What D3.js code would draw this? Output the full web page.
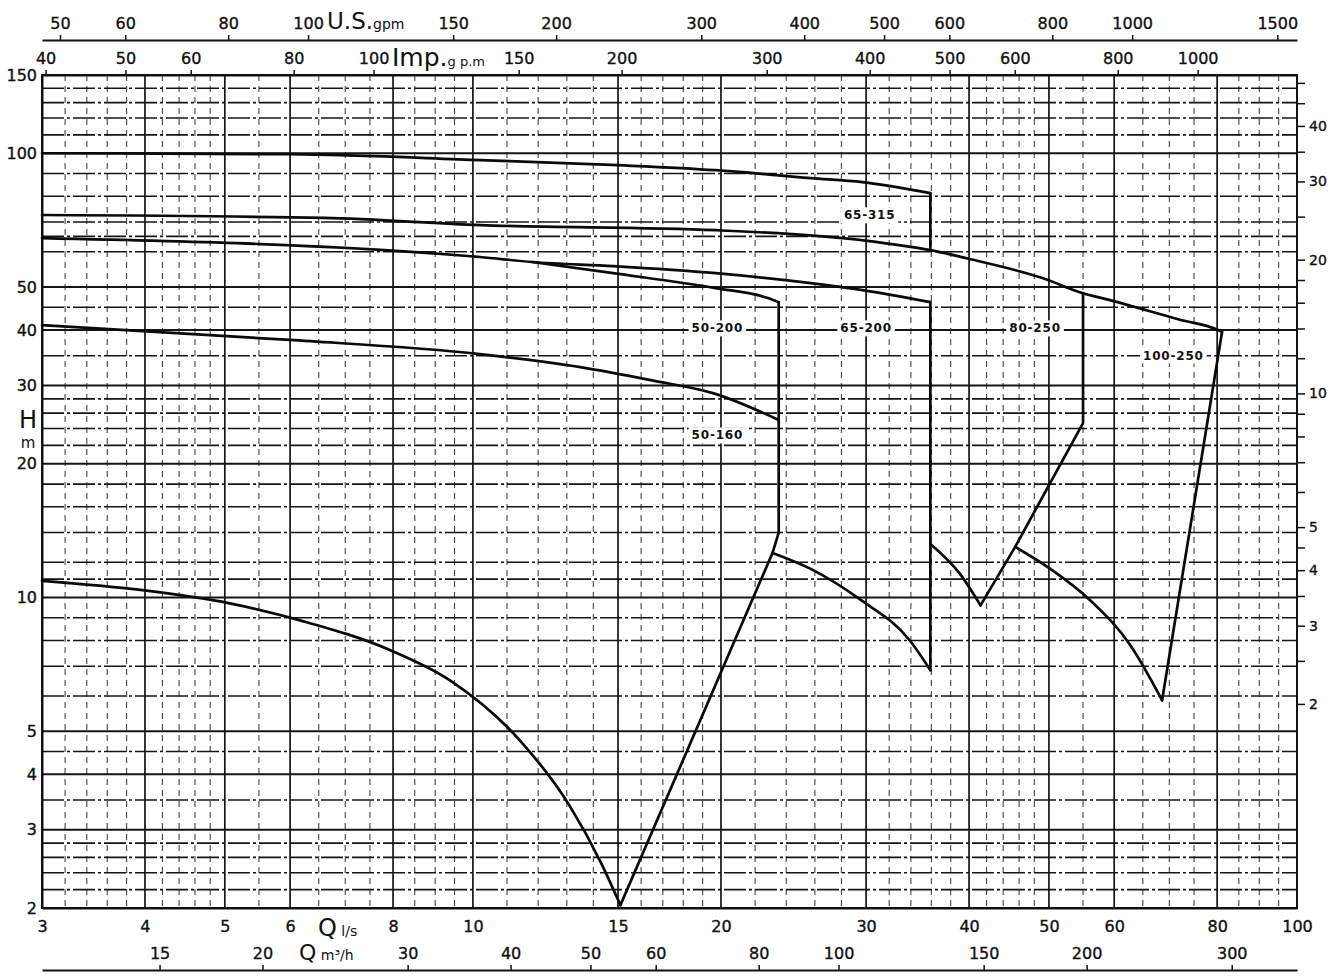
<!DOCTYPE html>
<html>
<head>
<meta charset="utf-8">
<script src="https://cdnjs.cloudflare.com/ajax/libs/d3/7.8.5/d3.min.js"></script>
<style>
  body { margin: 0; background: #fff; overflow: hidden; }
  svg { display: block; font-family: "DejaVu Sans", sans-serif; }
</style>
</head>
<body>
<div id="chart"></div>
<script>
// pump range chart, Q in l/s and H in m
var c65_315 = [[3,100],[6,99.5],[10.2,96.5],[15,94],[19.7,91.6],[25.7,87.9],[29.7,86.1],[35.9,81.3]];
var d65_315 = [[35.9,81.3],[35.9,60.5]];
var c100_250 = [[3,72.6],[6.6,71.5],[10.2,68.9],[19.7,67.1],[29.7,63.7],[35.9,60.5],[39.6,58.1],[49.2,52.3],[55,48.4],[59.3,46.7],[72.1,42.2],[80.2,40],[81.1,39.6]];
var d100_250 = [[81.1,39.6],[68.6,5.87]];
var c65_200 = [[3,64.4],[10.2,58.4],[11.8,56.9],[14.8,55.7],[19.7,53.7],[25.7,51],[29.7,49.2],[35.9,46.2]];
var d65_200 = [[35.9,46.2],[35.9,6.86]];
var c50_200 = [[11.8,56.9],[14.8,53.7],[19.7,49.7],[22.8,47.2],[23.5,46.2]];
var d50_200 = [[23.5,46.2],[23.5,14]];
var c50_160 = [[3,41],[6,38],[10.2,35.3],[13.5,33],[16.5,30.8],[19.6,28.8],[23.5,25.1]];
var lowLeft = [[3,10.9],[3.95,10.4],[5.07,9.7],[6.17,8.88],[7.94,7.61],[9.38,6.51],[11.4,4.77],[13.1,3.4],[14.3,2.53],[15.1,2.03]];
var upLeft = [[15.1,2.03],[23.1,12.6],[23.5,14]];
var low65_200 = [[23.1,12.6],[25.7,11.6],[29.5,9.9],[33.9,8],[35.9,6.86]];
var low80_250 = [[35.9,13.2],[39,11.3],[41.3,9.6]];
var up80_250 = [[41.3,9.6],[45.5,13],[55,24.7],[55,48.4]];
var low100_250 = [[45.5,13],[50.2,11.6],[56.1,9.86],[62.8,7.8],[68.6,5.87]];

var curveNames = ["65-315","50-200","65-200","80-250","100-250","50-160"];
var labelQ = [30.3,19.8,30,48.1,70.8,19.8];
var labelH = [72.6,40.4,40.4,40.4,35.1,23.2];

// tick labels
var qTicks = [3,4,5,6,8,10,15,20,30,40,50,60,80,100];
var m3Ticks = [15,20,30,40,50,60,80,100,150,200,300];
var usTicks = [50,60,80,100,150,200,300,400,500,600,800,1000,1500];
var impTicks = [40,50,60,80,100,150,200,300,400,500,600,800,1000];
var hTicks = [2,3,4,5,10,20,30,40,50,100,150];
var rTicks = [2,2.5,3,3.5,4,4.5,5,6,7,8,9,10,12,14,16,18,20,25,30,35,40,45,50];
var rLabels = [2,3,4,5,10,20,30,40];

// graph paper
var gridMajorQ = [3,4,5,6,8,10,15,20,30,40,50,60,80,100];
var gridMinorQ = [3.2,3.4,3.6,3.8,4.2,4.4,4.6,4.8,5.5,6.5,7,7.5,8.5,9,9.5,11,12,13,14,16,17,18,19,22,24,26,28,32,34,36,38,42,44,46,48,55,65,70,75,85,90,95];
var gridMajorH = [2,3,4,5,10,20,30,40,50,100,150];
var gridMinorH = [2.2,2.4,2.6,2.8,3.5,4.5,6,7,8,9,11,12,14,16,18,22,24,26,28,35,45,60,65,70,80,90,110,120,130,140];

var w = 1332;
var h = 976;
var x = d3.scaleLog().domain([3, 100]).range([42, 1297]);
var y = d3.scaleLog().domain([2, 150]).range([908, 75]);
var usScale = d3.scaleLog().domain([3 * 15.85, 100 * 15.85]).range([42, 1297]);
var impScale = d3.scaleLog().domain([3 * 13.2, 100 * 13.2]).range([42, 1297]);
var m3Scale = d3.scaleLog().domain([3 * 3.6, 100 * 3.6]).range([42, 1297]);
var rScale = d3.scaleLog().domain([2 / 2.88, 150 / 2.88]).range([908, 75]);

var svg = d3.select("#chart")
  .append("svg")
  .attr("width", w)
  .attr("height", h);

svg.append("rect").attr("width", w).attr("height", h).attr("fill", "#fff");

var grid = svg.append("g").attr("stroke", "#151515").attr("fill", "none");

grid.selectAll("line.vmin").data(gridMinorQ).enter().append("line")
  .attr("x1", function(d){ return x(d); }).attr("x2", function(d){ return x(d); })
  .attr("y1", y(150)).attr("y2", y(2))
  .attr("stroke-width", 1.1).attr("stroke", "#444")
  .attr("stroke-dasharray", "6,5");
grid.selectAll("line.hmin").data(gridMinorH).enter().append("line")
  .attr("y1", function(d){ return y(d); }).attr("y2", function(d){ return y(d); })
  .attr("x1", x(3)).attr("x2", x(100))
  .attr("stroke-width", 1.6)
  .attr("stroke-dasharray", "22,3,3,3");
grid.selectAll("line.vmaj").data(gridMajorQ).enter().append("line")
  .attr("x1", function(d){ return x(d); }).attr("x2", function(d){ return x(d); })
  .attr("y1", y(150)).attr("y2", y(2))
  .attr("stroke-width", 1.7);
grid.selectAll("line.hmaj").data(gridMajorH).enter().append("line")
  .attr("y1", function(d){ return y(d); }).attr("y2", function(d){ return y(d); })
  .attr("x1", x(3)).attr("x2", x(100))
  .attr("stroke-width", 1.9);

// axes
function styleAxis(g){
  g.attr("font-size", 16).attr("font-family", "DejaVu Sans, sans-serif");
  g.selectAll("text").attr("fill", "#111").attr("stroke", "#111").attr("stroke-width", 0.35);
  g.selectAll("line").attr("stroke", "#111").attr("stroke-width", 1.5);
  g.select(".domain").attr("stroke", "#111").attr("stroke-width", 2);
}

svg.append("g").attr("transform", "translate(0,40)")
  .call(d3.axisTop(usScale).tickValues(usTicks).tickFormat(d3.format("d")).tickSize(5).tickSizeOuter(0).tickPadding(6))
  .call(styleAxis);
svg.append("g").attr("transform", "translate(0,75)")
  .call(d3.axisTop(impScale).tickValues(impTicks).tickFormat(d3.format("d")).tickSize(5).tickSizeOuter(0).tickPadding(6))
  .call(styleAxis);
svg.append("g").attr("transform", "translate(0,908)")
  .call(d3.axisBottom(x).tickValues(qTicks).tickFormat(d3.format("d")).tickSize(0).tickPadding(13))
  .call(styleAxis);
svg.append("g").attr("transform", "translate(0,970)")
  .call(d3.axisTop(m3Scale).tickValues(m3Ticks).tickFormat(d3.format("d")).tickSize(5).tickSizeOuter(0).tickPadding(6))
  .call(styleAxis);
svg.append("g").attr("transform", "translate(42,0)")
  .call(d3.axisLeft(y).tickValues(hTicks).tickFormat(d3.format("d")).tickSize(0).tickPadding(5))
  .call(styleAxis);
var rAxis = svg.append("g").attr("transform", "translate(1297,0)")
  .call(d3.axisRight(rScale).tickValues(rTicks).tickSize(8).tickSizeOuter(0).tickPadding(4)
    .tickFormat(function(d){ return rLabels.indexOf(d) >= 0 ? d : ""; }))
  .call(styleAxis);
rAxis.select(".domain").remove();
rAxis.attr("font-size", 14);

// frame
svg.append("rect")
  .attr("x", x(3)).attr("y", y(150))
  .attr("width", x(100) - x(3)).attr("height", y(2) - y(150))
  .attr("fill", "none").attr("stroke", "#111").attr("stroke-width", 2);

// unit titles
function unitTitle(tx, ty, big, bigSize, small, smallSize){
  var t = svg.append("text").attr("x", tx).attr("y", ty).attr("fill", "#111");
  t.append("tspan").attr("font-size", bigSize).text(big);
  t.append("tspan").attr("font-size", smallSize).text(small);
}
unitTitle(327, 29, "U.S.", 23, "gpm", 14);
unitTitle(392, 66, "Imp.", 25, "g p.m", 13);
unitTitle(318, 936, "Q", 24, " l/s", 14);
unitTitle(299, 960, "Q", 22, " m\u00b3/h", 14);
svg.append("text").attr("x", 28).attr("y", 428).attr("text-anchor", "middle")
  .attr("font-size", 24).attr("fill", "#111").text("H");
svg.append("text").attr("x", 28).attr("y", 448).attr("text-anchor", "middle")
  .attr("font-size", 15).attr("fill", "#111").text("m");

// curves
var lineSmooth = d3.line()
  .x(function(d){ return x(d[0]); })
  .y(function(d){ return y(d[1]); })
  .curve(d3.curveMonotoneX);
var lineStraight = d3.line()
  .x(function(d){ return x(d[0]); })
  .y(function(d){ return y(d[1]); });

var smoothSets = [c65_315, c100_250, c65_200, c50_200, c50_160, lowLeft, low65_200, low80_250, low100_250];
var straightSets = [d65_315, d100_250, d65_200, d50_200, upLeft, up80_250];

var curves = svg.append("g")
  .attr("fill", "none").attr("stroke", "#0a0a0a")
  .attr("stroke-width", 2.7).attr("stroke-linejoin", "round").attr("stroke-linecap", "round");
curves.selectAll("path.s").data(smoothSets).enter().append("path").attr("d", lineSmooth);
curves.selectAll("path.l").data(straightSets).enter().append("path").attr("d", lineStraight);

// pump labels
var labels = svg.append("g");
curveNames.forEach(function(name, i){
  var g = labels.append("g").attr("transform", "translate(" + x(labelQ[i]) + "," + y(labelH[i]) + ")");
  var bg = g.append("rect").attr("fill", "#fff");
  var t = g.append("text")
    .attr("text-anchor", "middle").attr("dy", "0.36em")
    .attr("font-size", 12).attr("font-weight", "bold").attr("letter-spacing", 0.8).attr("fill", "#111")
    .text(name);
  var bb = t.node().getBBox();
  bg.attr("x", bb.x - 3).attr("y", bb.y - 1).attr("width", bb.width + 6).attr("height", bb.height + 2);
});
</script>
</body>
</html>
